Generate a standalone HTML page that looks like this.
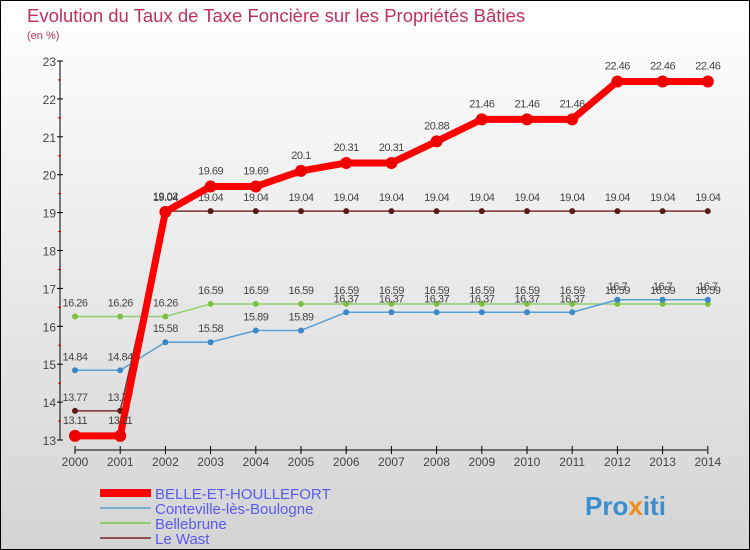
<!DOCTYPE html>
<html><head><meta charset="utf-8"><style>
body{margin:0}
svg{display:block;font-family:"Liberation Sans",sans-serif}
</style></head><body>
<svg id="c" width="750" height="550">
<defs><linearGradient id="bg" x1="0" y1="0" x2="0" y2="1"><stop offset="0" stop-color="#ffffff"/><stop offset="1" stop-color="#d4d4d4"/></linearGradient></defs>
<rect x="0.5" y="0.5" width="749" height="549" fill="url(#bg)" stroke="#000"/>
<text x="27" y="22" font-size="18.5" fill="#c0305f">Evolution du Taux de Taxe Foncière sur les Propriétés Bâties</text>
<text x="27" y="39" font-size="11" fill="#c0305f">(en %)</text>
<g id="axes"></g><g id="series"></g><g id="legend"></g>
<text x="585" y="515" font-size="26" font-weight="bold" fill="#3a8fd0">Pro<tspan fill="#f08a1a">x</tspan>iti</text>
</svg>
<script>
const years=[2000,2001,2002,2003,2004,2005,2006,2007,2008,2009,2010,2011,2012,2013,2014];
const belle=[13.11,13.11,19.02,19.69,19.69,20.1,20.31,20.31,20.88,21.46,21.46,21.46,22.46,22.46,22.46];
const conte=[14.84,14.84,15.58,15.58,15.89,15.89,16.37,16.37,16.37,16.37,16.37,16.37,16.7,16.7,16.7];
const bellebrune=[16.26,16.26,16.26,16.59,16.59,16.59,16.59,16.59,16.59,16.59,16.59,16.59,16.59,16.59,16.59];
const wast=[13.77,13.77,19.04,19.04,19.04,19.04,19.04,19.04,19.04,19.04,19.04,19.04,19.04,19.04,19.04];
const yTicks=[13,14,15,16,17,18,19,20,21,22,23];
const seriesNames=["BELLE-ET-HOULLEFORT","Conteville-lès-Boulogne","Bellebrune","Le Wast"];
const NS="http://www.w3.org/2000/svg";
const X=i=>75+i*45.2, Y=v=>440-(v-13)*37.9;
function mk(t,a,p){const e=document.createElementNS(NS,t);for(const k in a)e.setAttribute(k,a[k]);p.appendChild(e);return e;}
const ax=document.getElementById('axes');
let l=mk('line',{x1:60,y1:Y(23),x2:60,y2:Y(13),stroke:'#000'},ax);


l=mk('line',{x1:75,y1:450,x2:707,y2:450,stroke:'#000'},ax);


yTicks.forEach((t,i)=>{
 mk('line',{x1:57,x2:63,y1:Y(t),y2:Y(t),stroke:'#000'},ax);
 if(i<yTicks.length-1) mk('line',{x1:58,x2:61,y1:Y(t+0.5),y2:Y(t+0.5),stroke:'#d00'},ax);
 const tx=mk('text',{x:56,y:Y(t)+5,'font-size':12,'text-anchor':'end',fill:'#444'},ax);tx.textContent=t;
 
 
});
years.forEach((y,i)=>{
 mk('line',{x1:X(i),x2:X(i),y1:446,y2:454,stroke:'#000'},ax);
 const tx=mk('text',{x:X(i),y:466,'font-size':12,'text-anchor':'middle',fill:'#444'},ax);tx.textContent=y;
 
 
});
const sg=document.getElementById('series');
function draw(vals,col,w,r,dcol,name,off){
 const g=mk('g',{},sg);
 
 
 mk('polyline',{points:vals.map((v,i)=>X(i)+','+Y(v)).join(' '),fill:'none',stroke:col,'stroke-width':w,'stroke-linejoin':'round'},g);
 vals.forEach((v,i)=>{
  const c=mk('circle',{cx:X(i),cy:Y(v),r:r,fill:dcol},g);
  
  
  const t=mk('text',{x:X(i),y:Y(v)+off,'font-size':11,'text-anchor':'middle',fill:'#444','letter-spacing':'-0.5'},g);t.textContent=v;
  
  
 });
}
draw(bellebrune,'#90d070',1.5,3,'#80c040','bellebrune-series',-10);
draw(conte,'#5a9fd0',1.5,3,'#3a88c8','conteville-series',-10);
draw(wast,'#7a3030',1.5,3,'#5a1a1a','le-wast-series',-10);
draw(belle,'#ff0000',7,6,'#ee0000','belle-et-houllefort-series',-12);
const lg=document.getElementById('legend');
const cols=['#ff0000','#7aaed0','#90d070','#8a5050'],ws=[8,2,2,2];
seriesNames.forEach((n,i)=>{
 const y=493+i*15;
 const ln=mk('line',{x1:100,x2:151,y1:y,y2:y,stroke:cols[i],'stroke-width':ws[i]},lg);
 
 
 const t=mk('text',{x:155,y:y+6,'font-size':15,fill:'#5a5af0'},lg);t.textContent=n;
 
 
});
</script>
</body></html>
